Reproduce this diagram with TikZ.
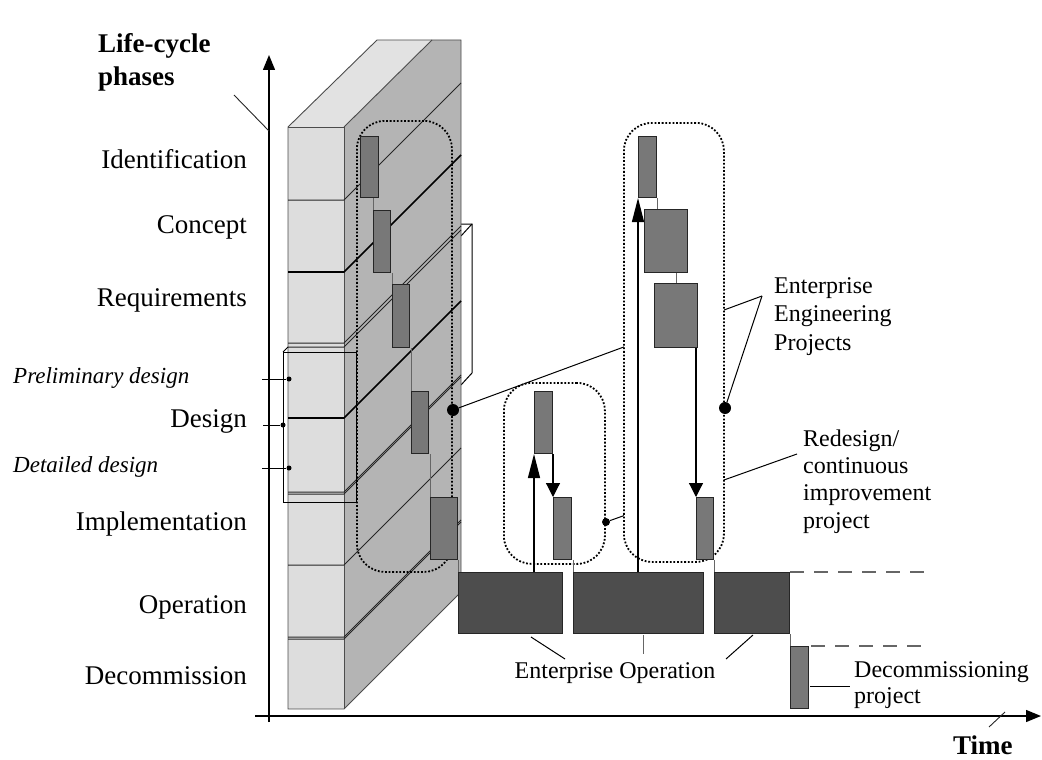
\documentclass[tikz,border=0pt]{standalone}
\usepackage{fontspec}
\setmainfont{Liberation Serif}
\usetikzlibrary{arrows.meta,calc}
\definecolor{frontgray}{HTML}{DDDDDD}
\definecolor{sidegray}{HTML}{B4B4B4}
\definecolor{topgray}{HTML}{E2E2E2}
\definecolor{projgray}{HTML}{787878}
\definecolor{opgray}{HTML}{4D4D4D}
\begin{document}
\begin{tikzpicture}[x=1pt,y=-1pt,
  axisline/.style={line width=1.3pt,draw=black,-{Triangle[length=15pt,width=12pt]}},
  slash/.style={line width=0.9pt,draw=black!85},
  wedge/.style={line width=0.9pt,draw=black!70},
  rowline/.style={line width=1pt,draw=black!85},
  rowthick/.style={line width=1.6pt,draw=black},
  encl/.style={line width=1pt,draw=black},
  projbox/.style={draw=black!85,fill=projgray,line width=1pt,inner sep=0pt,anchor=north west},
  opbox/.style={draw=black!85,fill=opgray,line width=1pt,inner sep=0pt,anchor=north west},
  link/.style={draw=black!60,line width=1pt},
  dotbox/.style={draw=black,line width=1.8pt,dash pattern=on 1.8pt off 1.8pt,rounded corners=28pt,inner sep=0pt,anchor=north west},
  leader/.style={draw=black,line width=1pt},
  bigdot/.style={circle,fill=black,inner sep=0pt,minimum size=12pt},
  smalldot/.style={circle,fill=black,inner sep=0pt,minimum size=8pt},
  tinydot/.style={circle,fill=black,inner sep=0pt,minimum size=5pt},
  uparrow/.style={draw=black,line width=1.2pt,-{Triangle[length=24pt,width=12pt]}},
  downarrow/.style={draw=black,line width=1.2pt,-{Triangle[length=14pt,width=14pt]}},
  dashline/.style={draw=black!60,line width=1.2pt,dash pattern=on 14pt off 10pt},
  lbl/.style={font=\fontsize{27}{31}\selectfont,inner sep=0pt},
  rlbl/.style={font=\fontsize{24}{28.5}\selectfont,inner sep=0pt},
  ilbl/.style={font=\fontsize{23}{27}\selectfont\itshape,inner sep=0pt},
  blbl/.style={font=\fontsize{27}{33}\selectfont\bfseries,inner sep=0pt}
]
\useasboundingbox (0,0) rectangle (1042,760);

% ---------- axes ----------
\coordinate (ybot) at (269,722);
\coordinate (ytop) at (269,55);
\coordinate (xleft) at (255,716);
\coordinate (xright) at (1041,716);
\draw[axisline] (ybot) -- (ytop);
\draw[axisline] (xleft) -- (xright);
\coordinate (ys1) at (234,95);
\coordinate (ys2) at (269,131);
\draw[slash] (ys1) -- (ys2);
\coordinate (xs1) at (989,727);
\coordinate (xs2) at (1005,712);
\draw[slash] (xs1) -- (xs2);

% ---------- design enclosure (back part) ----------
\draw[encl] (461,224) -- (472,224) -- (472,373) -- (461,385);
\draw[encl] (472,224) -- (461,236);

% ---------- wall ----------
\fill[topgray] (288,127) -- (344,127) -- (432,40) -- (377,40) -- cycle;
\fill[sidegray] (344,127) -- (432,40) -- (461,40) -- (461,592) -- (344,709) -- cycle;
\fill[frontgray] (288,127) rectangle (344,709);
\draw[wedge] (288,709) -- (288,127) -- (377,40) -- (461,40) -- (461,592) -- (344,709) -- cycle;
\draw[wedge] (344,709) -- (344,127) -- (288,127);
\draw[wedge] (344,127) -- (432,40);
\foreach \yy in {200,343,347,492,494,565,637,639}{
  \draw[rowline] (288,\yy) -- (344,\yy) -- (461,\yy-117);
}
\foreach \yy in {272,418}{
  \draw[rowthick] (288,\yy) -- (344,\yy) -- (461,\yy-117);
}

% ---------- design enclosure (front) ----------
\draw[encl] (283,352) rectangle (356,502);
\draw[encl] (283,352) -- (288,347);

% ---------- phase labels ----------
\node[blbl,anchor=base west,align=left] (lcp) at (98,85) {Life-cycle\\phases};
\node[lbl,anchor=base east] (lid) at (247,168) {Identification};
\node[lbl,anchor=base east] (lcon) at (247,233) {Concept};
\node[lbl,anchor=base east] (lreq) at (247,306) {Requirements};
\node[ilbl,anchor=base west] (lpre) at (13,383) {Preliminary design};
\node[lbl,anchor=base east] (ldes) at (247,427) {Design};
\node[ilbl,anchor=base west] (ldet) at (13,472) {Detailed design};
\node[lbl,anchor=base east] (limp) at (247,530) {Implementation};
\node[lbl,anchor=base east] (lop) at (247,613) {Operation};
\node[lbl,anchor=base east] (ldec) at (247,684) {Decommission};
\node[blbl,anchor=base west] (ltime) at (953,754) {Time};

% design ticks
\coordinate (tp1) at (262,379); \node[tinydot] (tp2) at (289,379) {};
\coordinate (td1) at (263,425); \node[tinydot] (td2) at (283,425) {};
\coordinate (tt1) at (262,468); \node[tinydot] (tt2) at (289,468) {};
\draw[leader] (tp1) -- (tp2);
\draw[leader] (td1) -- (td2);
\draw[leader] (tt1) -- (tt2);

% ---------- dotted project groups ----------
\node[dotbox,minimum width=95pt,minimum height=451pt] (eng1) at (356,120) {};
\node[dotbox,minimum width=101pt,minimum height=181pt] (redes) at (503,382) {};

% leaders (partly hidden by the right group)
\coordinate (eepc) at (762,296);
\coordinate (rdc) at (797,454);
\node[bigdot] (dleft) at (453,410) {};
\node[smalldot] (dsmall) at (606,522) {};
\draw[leader] (eepc) -- (dleft);
\draw[leader] (rdc) -- (dsmall);

\node[dotbox,fill=white,minimum width=100pt,minimum height=439pt] (eng2) at (623,122) {};
\node[bigdot] (dright) at (725,408) {};
\draw[leader] (eepc) -- (dright);

% ---------- projects on the wall ----------
\node[projbox,minimum width=18pt,minimum height=61pt] (p1) at (360,136) {};
\node[projbox,minimum width=17pt,minimum height=62pt] (p2) at (373,210) {};
\node[projbox,minimum width=17pt,minimum height=63pt] (p3) at (392,284) {};
\node[projbox,minimum width=17pt,minimum height=62pt] (p4) at (411,391) {};
\node[projbox,minimum width=27pt,minimum height=62pt] (p5) at (430,497) {};
\draw[link] (p2.north west |- p1.south) -- (p2.north west);
\draw[link] (p3.north west |- p2.south) -- (p3.north west);
\draw[link] (p4.north west |- p3.south) -- (p4.north west);
\draw[link] (p5.north west |- p4.south) -- (p5.north west);

% ---------- operation ----------
\node[opbox,minimum width=104pt,minimum height=61pt] (opa) at (458,572) {};
\node[opbox,minimum width=130pt,minimum height=61pt] (opb) at (573,572) {};
\node[opbox,minimum width=75pt,minimum height=61pt] (opc) at (714,572) {};
\node[projbox,minimum width=18pt,minimum height=62pt] (dec) at (790,646) {};
\draw[link] (opa.north west |- p5.south) -- (opa.north west);

% redesign project
\node[projbox,minimum width=18pt,minimum height=62pt] (r1) at (534,391) {};
\node[projbox,minimum width=18pt,minimum height=62pt] (r2) at (553,497) {};
\draw[uparrow] (r1.south west |- opa.north) -- (r1.south west);
\draw[downarrow] (r2.north west |- r1.south) -- (r2.north west);
\draw[link] (opb.north west |- r2.south) -- (opb.north west);

% engineering project on the right
\node[projbox,minimum width=18pt,minimum height=61pt] (e1) at (638,136) {};
\node[projbox,minimum width=43pt,minimum height=63pt] (e2) at (644,209) {};
\node[projbox,minimum width=43pt,minimum height=64pt] (e3) at (654,283) {};
\node[projbox,minimum width=17pt,minimum height=62pt] (e4) at (696,497) {};
\draw[uparrow] (e1.south west |- opb.north) -- (e1.south west);
\draw[link] (e1.south east) -- (e1.south east |- e2.north);
\coordinate (e23) at ($(e2.south west)!0.74!(e2.south east)$);
\draw[link] (e23) -- (e23 |- e3.north);
\draw[downarrow] (e4.north west |- e3.south) -- (e4.north west);
\draw[link] (opc.north west |- e4.south) -- (opc.north west);
\draw[link] (dec.north west |- opc.south) -- (dec.north west);

% dashed continuation
\coordinate (dash1) at (932,572);
\coordinate (dash2) at (922,646);
\draw[dashline] (opc.north east) -- (dash1);
\draw[dashline] ($(dec.north east)+(2,0)$) -- (dash2);

% ---------- right-hand labels ----------
\node[rlbl,anchor=base west,align=left] (leep) at (774,350) {Enterprise\\Engineering\\Projects};
\node[rlbl,anchor=base west,align=left,font=\fontsize{24}{27.3}\selectfont] (lred) at (803,528) {Redesign/\\continuous\\improvement\\project};
\node[rlbl,anchor=base west,align=left,font=\fontsize{24}{26}\selectfont] (ldecp) at (854,703) {Decommissioning\\project};
\coordinate (dl1) at (810,686);
\coordinate (dl2) at (850,686);
\draw[leader] (dl1) -- (dl2);

\node[rlbl,anchor=base] (leo) at (615,678) {Enterprise Operation};
\coordinate (eo1a) at (531,637); \coordinate (eo1b) at (565,659);
\coordinate (eo2a) at (643,635); \coordinate (eo2b) at (643,654);
\coordinate (eo3a) at (753,635); \coordinate (eo3b) at (726,659);
\draw[leader] (eo1a) -- (eo1b);
\draw[link] (eo2a) -- (eo2b);
\draw[leader] (eo3a) -- (eo3b);
\end{tikzpicture}
\end{document}
